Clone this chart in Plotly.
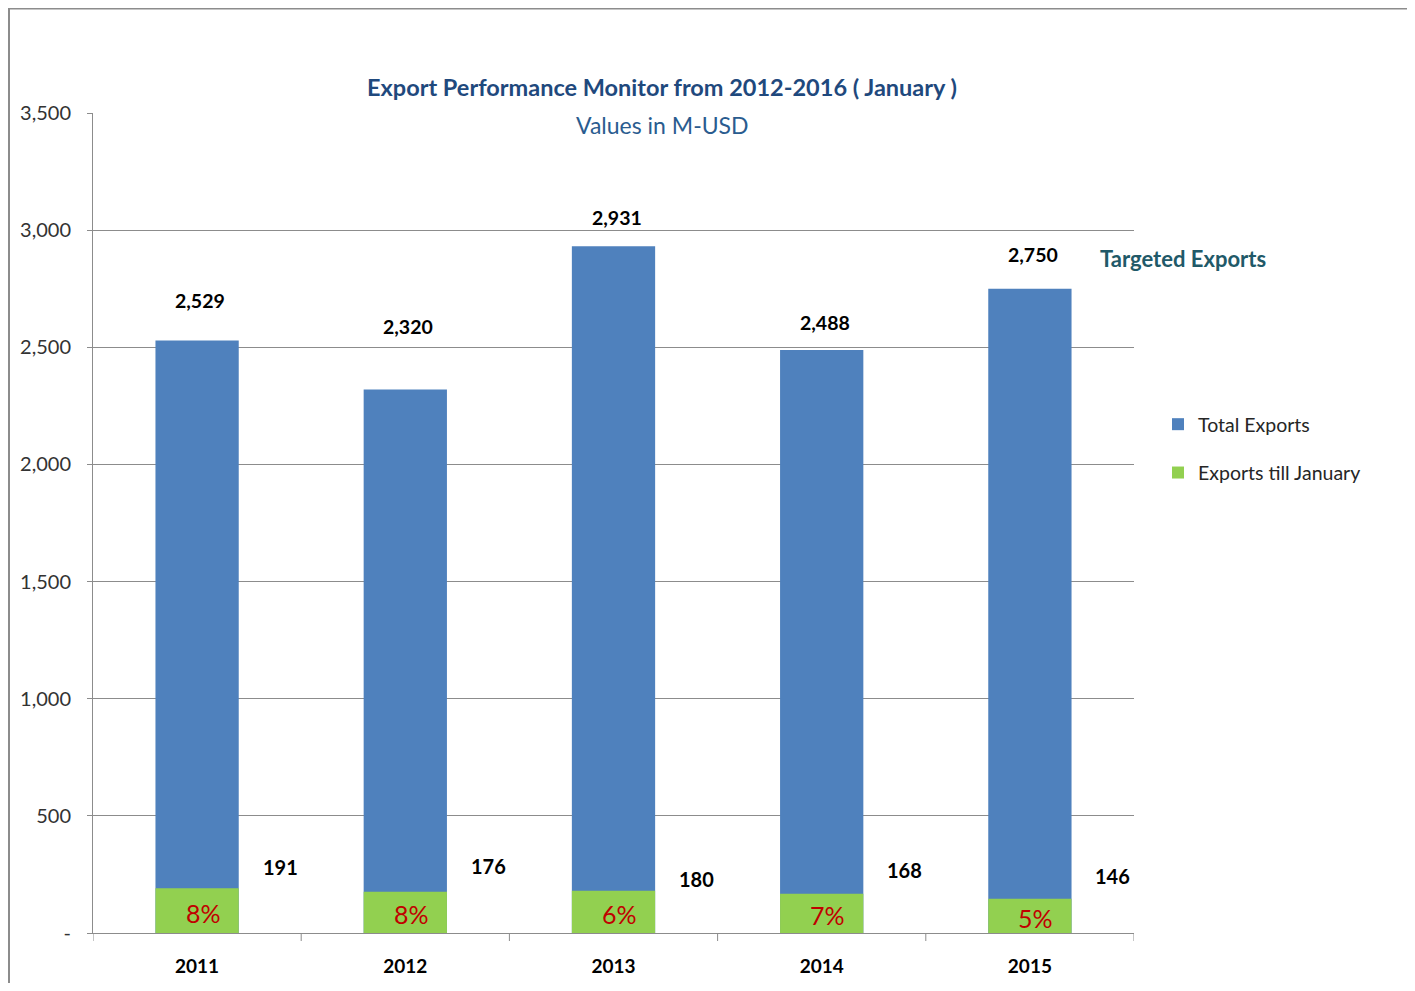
import plotly.graph_objects as go

years = ["2011", "2012", "2013", "2014", "2015"]
total_exports = [2529, 2320, 2931, 2488, 2750]
exports_till_january = [191, 176, 180, 168, 146]
share_labels = ["8%", "8%", "6%", "7%", "5%"]
y_ticks = [0, 500, 1000, 1500, 2000, 2500, 3000, 3500]
y_tick_labels = ["-", "500", "1,000", "1,500", "2,000", "2,500", "3,000", "3,500"]

FONT = "Lato, sans-serif"
BLUE = "#4f81bd"
GREEN = "#92d050"

fig = go.Figure()
fig.add_trace(go.Bar(x=years, y=total_exports, name="Total Exports", legendgroup="a",
                     marker=dict(color=BLUE, line=dict(width=0)), width=0.4))
fig.add_trace(go.Bar(x=years, y=exports_till_january, name="Exports till January", legendgroup="b",
                     marker=dict(color=GREEN, line=dict(width=0)), width=0.4))

# total labels above bars
total_shift = [40, 63, 29, 28, 34]
for i, v in enumerate(total_exports):
    fig.add_annotation(x=i, y=v, text=f"<b>{v:,}</b>", showarrow=False,
                       yshift=total_shift[i], xshift=3,
                       font=dict(family=FONT, size=19.5, color="#000000"))

# exports till january labels to the right
jan_shift = [21, 26, 12, 24, 23]
for i, v in enumerate(exports_till_january):
    fig.add_annotation(x=i, y=v, text=f"<b>{v}</b>", showarrow=False,
                       xshift=83, yshift=jan_shift[i],
                       font=dict(family=FONT, size=20, color="#000000"))

# percentage labels inside green bars
for i, (v, s) in enumerate(zip(exports_till_january, share_labels)):
    fig.add_annotation(x=i, y=v / 2, text=s, showarrow=False, xshift=6, yshift=-2,
                       font=dict(family=FONT, size=25, color="#c00000"))

# titles
fig.add_annotation(xref="paper", yref="paper", x=(662 - 93) / 1041, y=(933 - 87) / 820,
                   text="<b>Export Performance Monitor from 2012-2016 ( January )</b>",
                   showarrow=False, xanchor="center", yanchor="middle",
                   font=dict(family=FONT, size=23.5, color="#1f497d"))
fig.add_annotation(xref="paper", yref="paper", x=(662 - 93) / 1041, y=(933 - 125) / 820,
                   text="Values in M-USD", showarrow=False, xanchor="center", yanchor="middle",
                   font=dict(family=FONT, size=23, color="#2a5c8f"))
fig.add_annotation(xref="paper", yref="paper", x=(1098 - 93) / 1041, y=(933 - 258) / 820,
                   text="<b>Targeted Exports</b>", showarrow=False, xanchor="left", yanchor="middle",
                   font=dict(family=FONT, size=22, color="#215968"))

# outer frame
fig.add_shape(type="rect", xref="paper", yref="paper",
              x0=(9 - 93) / 1041, x1=(1413 - 93) / 1041,
              y0=(933 - 1000) / 820, y1=(933 - 8.5) / 820,
              line=dict(color="#8c8c8c", width=2), fillcolor="rgba(0,0,0,0)", layer="below")

fig.update_layout(
    width=1407, height=975,
    margin=dict(l=85, r=281, t=105, b=50, autoexpand=False),
    paper_bgcolor="white", plot_bgcolor="white",
    barmode="overlay", bargap=0.6,
    font=dict(family=FONT, size=21, color="#000000"),
    showlegend=True,
    legend=dict(x=(1158 - 93) / 1041, y=(933 - 405) / 820, xanchor="left", yanchor="top",
                font=dict(family=FONT, size=19.5, color="#262626"),
                tracegroupgap=20, itemwidth=30, bgcolor="rgba(0,0,0,0)"),
    xaxis=dict(type="category", showgrid=False, showline=True, linecolor="#8c8c8c", linewidth=1,
               ticks="", ticklabelstandoff=16, automargin=False,
               tickfont=dict(family=FONT, size=19, color="#000000"),
               tickprefix="<b>", ticksuffix="</b>", range=[-0.5, 4.5]),
    yaxis=dict(range=[0, 3500], tickvals=y_ticks, ticktext=y_tick_labels,
               showgrid=True, gridcolor="#8c8c8c", gridwidth=1, automargin=False,
               showline=True, linecolor="#8c8c8c", linewidth=1,
               ticks="outside", ticklen=5, tickcolor="#8c8c8c", ticklabelstandoff=12,
               tickfont=dict(family=FONT, size=20, color="#333333"), zeroline=False),
)

# x-axis category boundary tick marks
for k in range(6):
    fig.add_shape(type="line", xref="x", yref="paper", x0=k - 0.5, x1=k - 0.5,
                  y0=0, y1=-8 / 820, line=dict(color="#8c8c8c", width=1))

fig.write_html("out.html")
